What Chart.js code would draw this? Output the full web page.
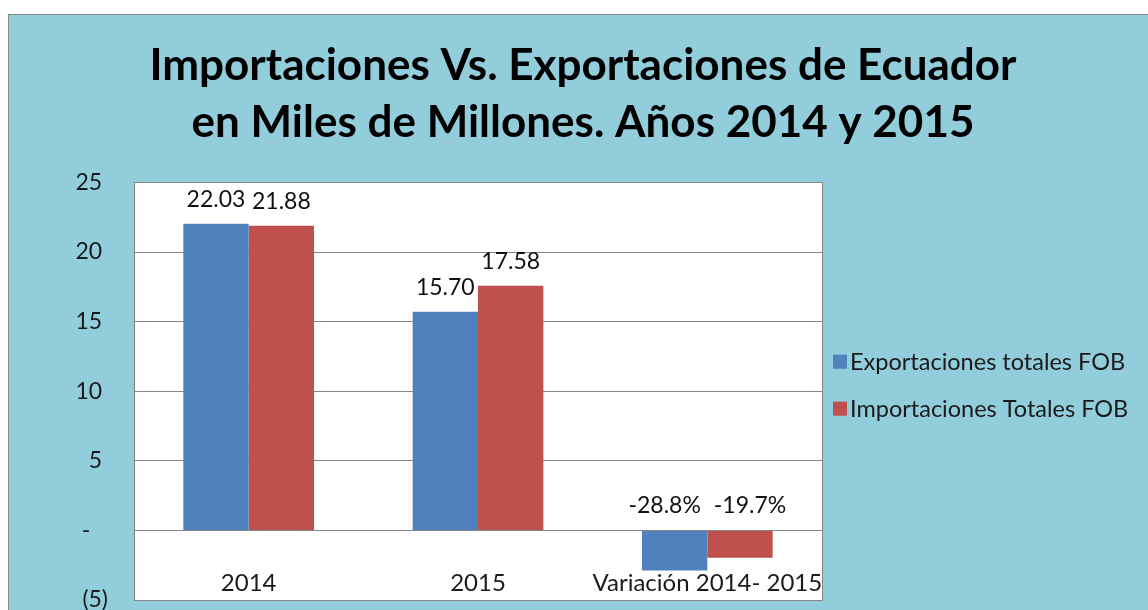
<!DOCTYPE html>
<html lang="es">
<head>
<meta charset="utf-8">
<title>Importaciones Vs. Exportaciones de Ecuador</title>
<script src="https://cdn.jsdelivr.net/npm/chart.js@4.4.0/dist/chart.umd.min.js"></script>
<style>
  html, body { margin: 0; padding: 0; background: #fff; overflow: hidden; }
  #marco {
    position: absolute; left: 8px; top: 14px;
    width: 1148px; height: 640px;
    border: 1px solid #8a8a8a;
    background: #92cddc;
  }
  canvas { display: block; }
</style>
</head>
<body>
<div id="marco"><canvas id="grafico" width="1148" height="640"></canvas></div>
<script>
// ----------------------------
// Datos
// ----------------------------
const categorias = ['2014', '2015', 'Variación 2014- 2015'];
const exportaciones = [22.03, 15.70, -2.88];
const importaciones = [21.88, 17.58, -1.97];
const etiquetasExport = ['22.03', '15.70', '-28.8%'];
const etiquetasImport = ['21.88', '17.58', '-19.7%'];
const ticksY = [-5, 0, 5, 10, 15, 20, 25];

const AZUL = '#4f81bd';
const ROJO = '#c0504d';
const GRIS = '#868686';
const TEXTO = '#1a1a1a';

// ----------------------------
// Plugins: fondo del área, etiquetas, leyenda
// ----------------------------
const areaBlanca = {
  id: 'areaBlanca',
  beforeDraw(chart) {
    const { ctx, chartArea: a } = chart;
    ctx.save();
    ctx.fillStyle = '#fff';
    ctx.fillRect(a.left, a.top, a.right - a.left, a.bottom - a.top);
    ctx.restore();
  },
  afterDraw(chart) {
    const { ctx, chartArea: a } = chart;
    ctx.save();
    ctx.strokeStyle = GRIS;
    ctx.lineWidth = 1;
    ctx.strokeRect(Math.round(a.left) + 0.5, Math.round(a.top) + 0.5,
      Math.round(a.right - a.left), Math.round(a.bottom - a.top));
    ctx.restore();
  }
};

const etiquetasBarras = {
  id: 'etiquetasBarras',
  afterDatasetsDraw(chart) {
    const { ctx, chartArea: a } = chart;
    const escalaX = chart.scales.x;
    const cero = chart.scales.y.getPixelForValue(0);
    const textos = [etiquetasExport, etiquetasImport];

    ctx.save();
    ctx.font = '23px Lato';
    ctx.fillStyle = '#111';
    ctx.textAlign = 'center';
    ctx.textBaseline = 'alphabetic';
    chart.data.datasets.forEach((ds, d) => {
      chart.getDatasetMeta(d).data.forEach((barra, i) => {
        const v = ds.data[i];
        let x = barra.x;
        if (v < 0) x += d === 0 ? -10 : 10;
        const base = v >= 0 ? barra.y : cero;
        ctx.fillText(textos[d][i], x, base - 17);
      });
    });

    // nombres de categoría, en la parte baja del área
    ctx.font = '24px Lato';
    ctx.fillStyle = TEXTO;
    ctx.textBaseline = 'middle';
    categorias.forEach((c, i) => {
      ctx.fillText(c, escalaX.getPixelForValue(i), a.bottom - 17);
    });
    ctx.restore();
  }
};

const leyenda = {
  id: 'leyenda',
  afterDraw(chart) {
    const { ctx, chartArea: a } = chart;
    const x = a.right + 11;
    let y = (a.top + a.bottom) / 2 - 29.5;
    ctx.save();
    ctx.font = '23.5px Lato';
    ctx.textBaseline = 'middle';
    ctx.textAlign = 'left';
    chart.data.datasets.forEach(ds => {
      ctx.fillStyle = ds.backgroundColor;
      ctx.fillRect(x, y - 7, 14, 14);
      ctx.fillStyle = TEXTO;
      ctx.fillText(ds.label, x + 17, y + 1);
      y += 47;
    });
    ctx.restore();
  }
};

// ----------------------------
// Gráfico
// ----------------------------
new Chart(document.getElementById('grafico'), {
  type: 'bar',
  data: {
    labels: categorias,
    datasets: [
      { label: 'Exportaciones totales FOB', data: exportaciones, backgroundColor: AZUL, borderWidth: 0 },
      { label: 'Importaciones Totales FOB', data: importaciones, backgroundColor: ROJO, borderWidth: 0 }
    ]
  },
  options: {
    responsive: false,
    animation: false,
    devicePixelRatio: 1,
    categoryPercentage: 0.57,
    barPercentage: 1,
    layout: { padding: { left: 0, right: 0, top: 0, bottom: 55 } },
    plugins: {
      title: {
        display: true,
        text: ['Importaciones Vs. Exportaciones de Ecuador', 'en Miles de Millones. Años 2014 y 2015'],
        color: '#000',
        font: { family: 'Lato', size: 44, weight: 'bold', lineHeight: 1.3 },
        padding: { top: 22, bottom: 31 }
      },
      legend: { display: false },
      tooltip: { enabled: false }
    },
    scales: {
      x: { display: false },
      y: {
        min: ticksY[0],
        max: ticksY[ticksY.length - 1],
        afterFit(s) { s.width = 125; },
        afterBuildTicks(s) { s.ticks = ticksY.map(v => ({ value: v })); },
        ticks: {
          color: TEXTO,
          font: { family: 'Lato', size: 23 },
          padding: 26,
          callback: v => v > 0 ? v + ' ' : (v === 0 ? '-   ' : '(' + (-v) + ')')
        },
        grid: { color: GRIS, drawTicks: false },
        border: { color: GRIS }
      },
      derecha: {
        position: 'right',
        display: true,
        afterFit(s) { s.width = 335; },
        ticks: { display: false },
        grid: { display: false },
        border: { display: false }
      }
    }
  },
  plugins: [areaBlanca, etiquetasBarras, leyenda]
});
</script>
</body>
</html>
